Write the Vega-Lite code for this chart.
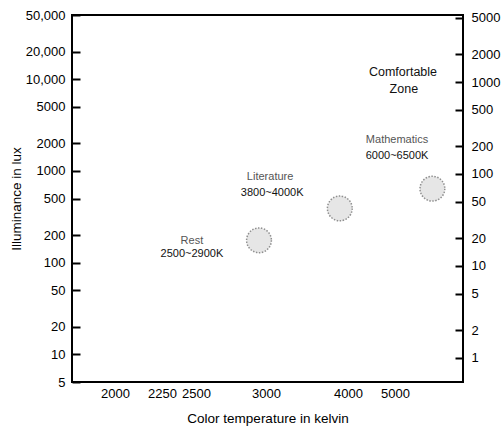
{
  "$schema": "https://vega.github.io/schema/vega-lite/v6.json",
  "width": 391,
  "height": 367,
  "autosize": {"type": "none"},
  "padding": {"left": 72, "top": 15, "right": 40, "bottom": 47},
  "background": "#ffffff",
  "config": {
    "font": "Liberation Sans",
    "view": {"stroke": "#000000", "strokeWidth": 2},
    "axis": {"grid": false, "domain": false, "labelColor": "#000000", "titleColor": "#000000", "labelFont": "Liberation Sans", "titleFont": "Liberation Sans"}
  },
  "datasets": {
    "points": [
      {"activity": "Rest", "kelvin": 2950, "lux": 175},
      {"activity": "Literature", "kelvin": 3900, "lux": 390},
      {"activity": "Mathematics", "kelvin": 6100, "lux": 640}
    ],
    "labels": [
      {"text": "Rest", "role": "name", "kelvin": 2470, "lux": 172},
      {"text": "2500~2900K", "role": "range", "kelvin": 2470, "lux": 124},
      {"text": "Literature", "role": "name", "kelvin": 3050, "lux": 857},
      {"text": "3800~4000K", "role": "range", "kelvin": 3075, "lux": 574},
      {"text": "Mathematics", "role": "name", "kelvin": 5060, "lux": 2170},
      {"text": "6000~6500K", "role": "range", "kelvin": 5060, "lux": 1452},
      {"text": "Comfortable", "role": "zone", "kelvin": 5235, "lux": 11960},
      {"text": "Zone", "role": "zone", "kelvin": 5260, "lux": 7800}
    ],
    "footcandles": [
      {"kelvin": 3000, "fc": 1},
      {"kelvin": 3000, "fc": 5000}
    ]
  },
  "layer": [
    {
      "layer": [
        {
          "data": {"name": "points"},
          "mark": {"type": "point", "shape": "circle", "filled": true, "fill": "#e6e6e6", "fillOpacity": 1, "stroke": "#8f8f8f", "strokeWidth": 1.5, "strokeDash": [1.5, 1.5], "size": 615},
          "encoding": {
            "x": {
              "field": "kelvin", "type": "quantitative",
              "scale": {"type": "linear", "domain": [1750, 2000, 2250, 2500, 3000, 4000, 5000, 7000], "range": [0, 43, 90, 124, 194, 276, 323, 391], "zero": false, "nice": false, "clamp": true},
              "axis": {"orient": "bottom", "values": [2000, 2250, 2500, 3000, 4000, 5000], "format": "d", "ticks": false, "labelFontSize": 13, "labelPadding": 5, "labelFlush": false, "title": "Color temperature in kelvin", "titleFontSize": 13.5, "titleFontWeight": "normal", "titlePadding": 11}
            },
            "y": {
              "field": "lux", "type": "quantitative",
              "scale": {"type": "log", "domain": [5, 50000], "nice": false},
              "axis": {"orient": "left", "values": [5, 10, 20, 50, 100, 200, 500, 1000, 2000, 5000, 10000, 20000, 50000], "labelExpr": "datum.value >= 10000 ? format(datum.value, ',') : format(datum.value, 'd')", "tickSize": -8, "tickWidth": 2, "tickColor": "#000000", "labelFontSize": 13, "labelPadding": 15, "title": "Illuminance in lux", "titleFontSize": 13.5, "titleFontWeight": "normal", "titlePadding": 2}
            }
          }
        },
        {
          "data": {"name": "labels"},
          "transform": [{"filter": "datum.role == 'name'"}],
          "mark": {"type": "text", "fontSize": 11, "color": "#555555", "align": "center", "baseline": "middle"},
          "encoding": {
            "x": {"field": "kelvin", "type": "quantitative"},
            "y": {"field": "lux", "type": "quantitative"},
            "text": {"field": "text"}
          }
        },
        {
          "data": {"name": "labels"},
          "transform": [{"filter": "datum.role == 'range'"}],
          "mark": {"type": "text", "fontSize": 11, "color": "#111111", "align": "center", "baseline": "middle"},
          "encoding": {
            "x": {"field": "kelvin", "type": "quantitative"},
            "y": {"field": "lux", "type": "quantitative"},
            "text": {"field": "text"}
          }
        },
        {
          "data": {"name": "labels"},
          "transform": [{"filter": "datum.role == 'zone'"}],
          "mark": {"type": "text", "fontSize": 12.5, "color": "#111111", "align": "center", "baseline": "middle"},
          "encoding": {
            "x": {"field": "kelvin", "type": "quantitative"},
            "y": {"field": "lux", "type": "quantitative"},
            "text": {"field": "text"}
          }
        }
      ]
    },
    {
      "data": {"name": "footcandles"},
      "mark": {"type": "point", "opacity": 0},
      "encoding": {
        "x": {"field": "kelvin", "type": "quantitative"},
        "y": {
          "field": "fc", "type": "quantitative",
          "scale": {"type": "log", "domain": [0.548, 5350], "nice": false},
          "axis": {"orient": "right", "values": [1, 2, 5, 10, 20, 50, 100, 200, 500, 1000, 2000, 5000], "format": "d", "tickSize": -8, "tickWidth": 2, "tickColor": "#000000", "labelFontSize": 13, "labelPadding": 16, "title": null}
        }
      }
    }
  ],
  "resolve": {"scale": {"y": "independent"}}
}
